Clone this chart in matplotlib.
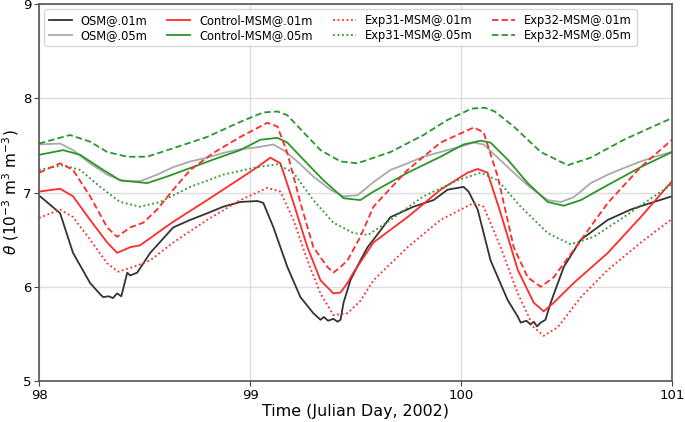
import matplotlib
matplotlib.use("Agg")
import matplotlib.pyplot as plt

# ---- data ----
osm01_t = [98.0, 98.005, 98.10, 98.161, 98.242, 98.290, 98.304, 98.33, 98.35, 98.370, 98.39, 98.418, 98.432, 98.465, 98.527,
           98.636, 98.717, 98.797, 98.873, 98.954, 99.035, 99.063, 99.111, 99.177, 99.239, 99.30, 99.334, 99.35, 99.37, 99.395,
           99.415, 99.429, 99.443, 99.476, 99.523, 99.557, 99.585, 99.666, 99.775, 99.870, 99.936, 100.012, 100.036, 100.079,
           100.140, 100.221, 100.27, 100.283, 100.31, 100.330, 100.345, 100.36, 100.378, 100.40, 100.425, 100.487, 100.568,
           100.696, 100.805, 100.900, 101.0]
osm01_v = [6.96, 6.96, 6.78, 6.36, 6.04, 5.92, 5.89, 5.90, 5.88, 5.93, 5.90, 6.15, 6.12, 6.15, 6.36,
           6.63, 6.71, 6.78, 6.85, 6.90, 6.91, 6.89, 6.63, 6.21, 5.89, 5.72, 5.65, 5.68, 5.64, 5.66,
           5.63, 5.65, 5.83, 6.07, 6.28, 6.42, 6.50, 6.74, 6.85, 6.92, 7.03, 7.06, 7.01, 6.82,
           6.28, 5.86, 5.68, 5.62, 5.64, 5.60, 5.63, 5.58, 5.62, 5.65, 5.83, 6.21, 6.50,
           6.71, 6.82, 6.89, 6.96]

osm05_t = [98.0, 98.10, 98.161, 98.242, 98.323, 98.399, 98.479, 98.560, 98.636, 98.717, 98.797, 98.873, 98.954, 99.035,
           99.111, 99.158, 99.224, 99.300, 99.381, 99.443, 99.509, 99.585, 99.666, 99.747, 99.822, 99.903, 99.984, 100.060,
           100.107, 100.174, 100.250, 100.330, 100.411, 100.473, 100.534, 100.615, 100.696, 100.772, 100.852, 100.933, 101.0]
osm05_v = [7.51, 7.52, 7.45, 7.31, 7.19, 7.12, 7.12, 7.19, 7.27, 7.33, 7.37, 7.42, 7.46, 7.48,
           7.51, 7.45, 7.33, 7.17, 7.03, 6.96, 6.97, 7.11, 7.24, 7.31, 7.38, 7.43, 7.48, 7.53,
           7.51, 7.37, 7.21, 7.05, 6.92, 6.90, 6.95, 7.10, 7.19, 7.26, 7.33, 7.39, 7.43]

ctl01_t = [98.0, 98.10, 98.161, 98.242, 98.323, 98.370, 98.432, 98.479, 98.560, 98.636, 98.797, 98.954, 99.035, 99.096,
           99.144, 99.206, 99.272, 99.334, 99.395, 99.429, 99.462, 99.490, 99.585, 99.747, 99.903, 100.031, 100.079, 100.126,
           100.188, 100.269, 100.345, 100.392, 100.439, 100.534, 100.696, 100.852, 101.0]
ctl01_v = [7.01, 7.04, 6.96, 6.71, 6.47, 6.36, 6.42, 6.44, 6.57, 6.69, 6.92, 7.15, 7.27, 7.37,
           7.31, 6.89, 6.42, 6.07, 5.93, 5.94, 6.04, 6.15, 6.47, 6.74, 7.03, 7.21, 7.25, 7.21,
           6.78, 6.18, 5.83, 5.74, 5.83, 6.04, 6.36, 6.74, 7.12]

ctl05_t = [98.0, 98.114, 98.195, 98.290, 98.384, 98.513, 98.607, 98.717, 98.826, 98.954, 99.049, 99.130, 99.177, 99.253,
           99.348, 99.443, 99.523, 99.585, 99.747, 99.903, 100.012, 100.093, 100.140, 100.221, 100.316, 100.411, 100.487,
           100.568, 100.696, 100.852, 101.0]
ctl05_v = [7.40, 7.45, 7.40, 7.26, 7.13, 7.10, 7.17, 7.26, 7.35, 7.45, 7.56, 7.58, 7.53, 7.35,
           7.13, 6.94, 6.92, 7.01, 7.21, 7.38, 7.51, 7.55, 7.53, 7.35, 7.10, 6.90, 6.86,
           6.92, 7.08, 7.27, 7.43]

e31_01_t = [98.0, 98.10, 98.161, 98.242, 98.323, 98.375, 98.446, 98.527, 98.636, 98.797, 98.954, 99.082, 99.144, 99.206,
            99.272, 99.334, 99.395, 99.462, 99.523, 99.585, 99.747, 99.903, 100.060, 100.107, 100.188, 100.269, 100.345,
            100.392, 100.458, 100.568, 100.696, 100.852, 101.0]
e31_01_v = [6.73, 6.82, 6.74, 6.50, 6.25, 6.16, 6.21, 6.28, 6.47, 6.71, 6.92, 7.05, 7.01, 6.71,
            6.28, 5.93, 5.70, 5.72, 5.85, 6.07, 6.42, 6.71, 6.89, 6.85, 6.42, 5.93, 5.57,
            5.48, 5.57, 5.89, 6.18, 6.47, 6.72]

e31_05_t = [98.0, 98.114, 98.195, 98.290, 98.384, 98.479, 98.574, 98.717, 98.873, 99.035, 99.130, 99.206, 99.300, 99.395,
            99.490, 99.560, 99.666, 99.822, 99.984, 100.093, 100.174, 100.283, 100.411, 100.520, 100.629, 100.772, 101.0]
e31_05_v = [7.24, 7.29, 7.24, 7.06, 6.90, 6.85, 6.90, 7.06, 7.19, 7.27, 7.30, 7.21, 6.92, 6.68,
            6.57, 6.55, 6.71, 6.96, 7.13, 7.21, 7.13, 6.85, 6.57, 6.45, 6.53, 6.74, 7.09]

e32_01_t = [98.0, 98.10, 98.161, 98.242, 98.323, 98.370, 98.432, 98.494, 98.560, 98.636, 98.717, 98.826, 98.954, 99.082,
            99.130, 99.177, 99.239, 99.300, 99.367, 99.395, 99.429, 99.462, 99.523, 99.585, 99.747, 99.903, 100.060, 100.107,
            100.174, 100.250, 100.316, 100.378, 100.439, 100.534, 100.696, 100.852, 101.0]
e32_01_v = [7.21, 7.31, 7.24, 6.96, 6.63, 6.53, 6.63, 6.68, 6.82, 7.03, 7.24, 7.42, 7.59, 7.74,
            7.70, 7.42, 6.89, 6.42, 6.21, 6.15, 6.21, 6.28, 6.53, 6.85, 7.24, 7.53, 7.69, 7.64,
            7.17, 6.42, 6.10, 6.00, 6.10, 6.39, 6.89, 7.27, 7.56]

e32_05_t = [98.0, 98.147, 98.242, 98.323, 98.418, 98.513, 98.636, 98.797, 98.954, 99.063, 99.130, 99.177, 99.253, 99.334,
            99.429, 99.509, 99.666, 99.822, 99.936, 100.050, 100.112, 100.160, 100.250, 100.378, 100.506, 100.615, 100.772,
            100.900, 101.0]
e32_05_v = [7.52, 7.61, 7.54, 7.43, 7.38, 7.38, 7.47, 7.59, 7.75, 7.85, 7.86, 7.82, 7.64, 7.45,
            7.33, 7.31, 7.43, 7.61, 7.77, 7.89, 7.90, 7.86, 7.70, 7.43, 7.29, 7.37, 7.56, 7.69, 7.79]

labels = ["OSM@.01m", "OSM@.05m", "Control-MSM@.01m", "Control-MSM@.05m",
          "Exp31-MSM@.01m", "Exp31-MSM@.05m", "Exp32-MSM@.01m", "Exp32-MSM@.05m"]
x_ticks = [98, 99, 100, 101]
y_ticks = [5, 6, 7, 8, 9]

# ---- plot ----
fig = plt.figure(figsize=(6.85, 4.22), dpi=100)
ax = fig.add_axes([0.057, 0.097, 0.924, 0.8935])

red = "#ff2a2a"
green = "#2a962a"
lw = 1.3
ax.plot(osm01_t, osm01_v, color="#333333", lw=lw, label=labels[0])
ax.plot(osm05_t, osm05_v, color="#a9a9a9", lw=lw, label=labels[1])
ax.plot(ctl01_t, ctl01_v, color=red, lw=lw, label=labels[2])
ax.plot(ctl05_t, ctl05_v, color=green, lw=lw, label=labels[3])
ax.plot(e31_01_t, e31_01_v, color=red, lw=lw, ls=(0, (1, 1.5)), label=labels[4])
ax.plot(e31_05_t, e31_05_v, color=green, lw=lw, ls=(0, (1, 1.5)), label=labels[5])
ax.plot(e32_01_t, e32_01_v, color=red, lw=lw, ls=(0, (3.5, 1.8)), label=labels[6])
ax.plot(e32_05_t, e32_05_v, color=green, lw=lw, ls=(0, (3.5, 1.8)), label=labels[7])

ax.set_xlim(98, 101)
ax.set_ylim(5, 9)
ax.set_xticks(x_ticks)
ax.set_yticks(y_ticks)
ax.tick_params(labelsize=9.5, length=3.5, pad=2, color="#444444")
ax.grid(True, color="#dddddd", lw=1)
ax.set_axisbelow(True)
for s in ax.spines.values():
    s.set_color("#555555")
    s.set_linewidth(1.2)
ax.set_xlabel("Time (Julian Day, 2002)", fontsize=11.4, labelpad=2)
ax.set_ylabel(r"$\theta$ ($10^{-3}$ m$^3$ m$^{-3}$)", fontsize=11, labelpad=1.5)

leg = ax.legend(ncol=4, loc="upper left", fontsize=8.3, frameon=True,
                borderaxespad=0.43, handlelength=2.0, columnspacing=1.75,
                handletextpad=0.75, labelspacing=0.2, borderpad=0.4, fancybox=True)
leg.get_frame().set_edgecolor("#cccccc")

fig.savefig("out.png", dpi=100)
